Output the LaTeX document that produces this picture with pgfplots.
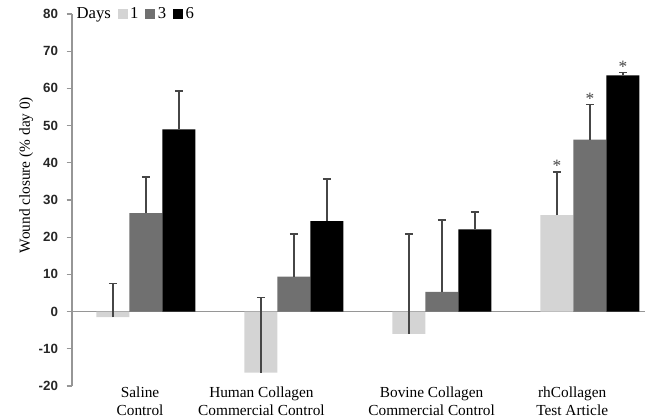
\documentclass[border=0pt]{standalone}
\usepackage{pgfplots}
\pgfplotsset{compat=1.18}
\usetikzlibrary{arrows.meta}
\usepackage{fontspec}
\setmainfont{Liberation Serif}
\newfontfamily\sansfont{Liberation Sans}
\definecolor{dayone}{RGB}{212,212,212}
\definecolor{daythree}{RGB}{112,112,112}
\definecolor{errcol}{RGB}{70,70,70}
\definecolor{axcol}{RGB}{150,150,150}
\pgfplotsset{sq/.style={legend image code/.code={\fill[##1] (0pt,-3.75pt) rectangle (7.5pt,3.75pt);}},
  eb/.style={error bars/.cd, y dir=plus, y explicit, error mark=none, error bar style={draw=errcol, line width=1.1pt, -{Bar[width=6pt, line width=1.3pt]}}}}
\begin{document}
\begin{tikzpicture}
\useasboundingbox (-54pt,-23.25pt) rectangle (429.75pt,289.5pt);
\begin{axis}[
 scale only axis, width=429.75pt, height=279pt,
 xmin=-0.5, xmax=3.372, ymin=-20, ymax=80,
 axis y line=left, axis x line=bottom,
 axis line style={-},
 x axis line style={draw=none},
 y axis line style={draw=axcol, line width=0.8pt},
 ytick={-20,-10,...,80},
 xtick={-0.04,0.78,1.93,2.88},
 xticklabels={Saline\\Control, Human Collagen\\Commercial Control, Bovine Collagen\\Commercial Control, rhCollagen\\Test Article},
 xticklabel style={align=center, font=\fontsize{11.5}{13.5}\selectfont, yshift=7pt},
 x tick style={draw=none},
 y tick style={draw=axcol, line width=0.8pt},
 tick align=outside, major tick length=4pt,
 yticklabel style={font=\sansfont\bfseries\fontsize{10}{12}\selectfont, text=black!85, xshift=-3pt},
 /pgf/number format/assume math mode=true,
 ylabel={Wound closure (\% day 0)},
 ylabel style={font=\fontsize{11.5}{13}\selectfont, at={(axis description cs:-0.08,0.567)}, anchor=center},
 legend style={at={(axis description cs:-0.004,1)}, anchor=west, draw=none, fill=none, legend columns=-1, font=\fontsize{12.5}{14}\selectfont, /tikz/every even column/.append style={column sep=3pt}},
 clip=false,
]
\addlegendimage{empty legend}
\addlegendentry{Days}
\addplot[axcol, line width=0.8pt, forget plot] coordinates {(-0.5,0) (3.372,0)};
\addplot[ybar, bar width=24.75pt, bar shift=0pt, fill=dayone, draw=none, sq, eb] coordinates {
 (-0.223,-1.5) +- (0,9.3)
 (0.777,-16.4) +- (0,20.4)
 (1.777,-6.0) +- (0,27.1)
 (2.777,25.9) +- (0,11.9)
};
\addlegendentry{1}
\addplot[ybar, bar width=24.75pt, bar shift=0pt, fill=daythree, draw=none, sq, eb] coordinates {
 (0,26.5) +- (0,10.0)
 (1,9.4) +- (0,11.6)
 (2,5.3) +- (0,19.6)
 (3,46.2) +- (0,9.7)
};
\addlegendentry{3}
\addplot[ybar, bar width=24.75pt, bar shift=0pt, fill=black, draw=none, sq, eb] coordinates {
 (0.223,49.0) +- (0,10.6)
 (1.223,24.3) +- (0,11.5)
 (2.223,22.1) +- (0,5.0)
 (3.223,63.5) +- (0,1.0)
};
\addlegendentry{6}
\addplot[draw=none, mark=none, forget plot, nodes near coords={*}, every node near coord/.style={anchor=south, font=\fontsize{13}{13}\selectfont, yshift=-4pt, text=errcol}] coordinates {
 (2.777,37.8) (3,55.9) (3.223,64.5)
};
\end{axis}
\end{tikzpicture}
\end{document}
